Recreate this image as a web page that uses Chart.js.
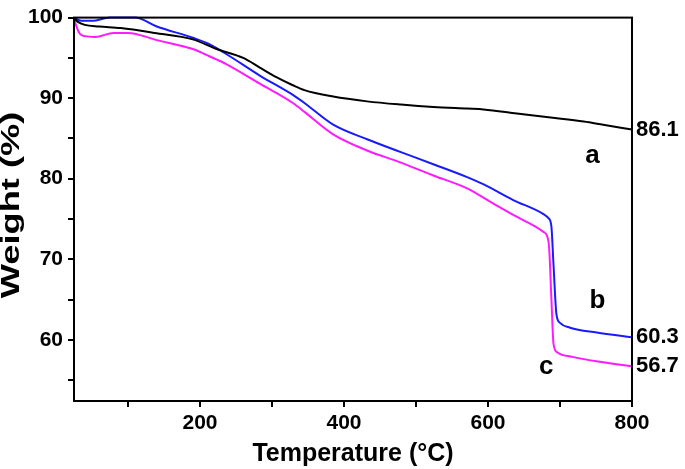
<!DOCTYPE html>
<html>
<head>
<meta charset="utf-8">
<script src="https://cdn.jsdelivr.net/npm/chart.js@4"></script>
<style>
html, body { margin: 0; padding: 0; background: #fff; }
canvas { display: block; }
</style>
</head>
<body>
<canvas id="tga" width="685" height="469"></canvas>
<script>
// TGA curves, weight (%) vs temperature (C)
var tempA   = [25, 30, 40, 60, 90, 137, 190, 223, 260, 283, 306, 329, 345, 385, 432, 479, 524, 571, 594, 640, 687, 733, 760, 800];
var weightA = [100, 99.5, 99.1, 98.9, 98.7, 98.1, 97.3, 96.1, 95.0, 93.8, 92.6, 91.6, 91.0, 90.2, 89.6, 89.2, 88.9, 88.7, 88.6, 88.1, 87.6, 87.1, 86.7, 86.1];

var tempB   = [25, 35, 50, 75, 110, 140, 190, 213, 237, 283, 329, 345, 385, 432, 479, 524, 571, 594, 635, 677, 684, 688, 691, 695, 700, 714, 751, 800];
var weightB = [100, 99.6, 99.6, 100, 100, 98.9, 97.5, 96.7, 95.45, 92.8, 90.4, 89.4, 86.7, 84.9, 83.3, 81.8, 80.2, 79.3, 77.35, 75.6, 75.1, 74.1, 69.3, 63.2, 62.1, 61.5, 60.9, 60.3];

var tempC   = [25, 28, 33, 40, 55, 80, 100, 140, 190, 213, 237, 283, 329, 345, 385, 432, 479, 524, 571, 600, 635, 677, 682, 685, 688, 691, 696, 719, 760, 800];
var weightC = [100, 99, 98.0, 97.7, 97.6, 98.1, 98.1, 97.2, 96.1, 95.2, 94.2, 91.8, 89.4, 88.3, 85.5, 83.5, 82.0, 80.4, 78.8, 77.3, 75.5, 73.4, 72.9, 71.3, 65.2, 59.5, 58.45, 57.85, 57.2, 56.7];

var curveNames = ['a', 'b', 'c'];
var xTicks  = [100, 200, 300, 400, 500, 600, 700, 800];
var xLabels = [200, 400, 600, 800];
var yTicks  = [55, 60, 65, 70, 75, 80, 85, 90, 95, 100];
var yLabels = [60, 70, 80, 90, 100];

var FONT = '"Liberation Sans", Arial, sans-serif';

function pts(xs, ys) {
    return xs.map(function (x, i) { return { x: x, y: ys[i] }; });
}

function line(label, xs, ys, color) {
    return {
        label: label,
        data: pts(xs, ys),
        borderColor: color,
        borderWidth: 2,
        pointRadius: 0,
        cubicInterpolationMode: 'monotone',
        clip: 4
    };
}

var annotate = {
    id: 'annotate',
    afterDraw: function (chart) {
        var ctx = chart.ctx, a = chart.chartArea;
        var xs = chart.scales.x, ys = chart.scales.y;
        ctx.save();
        ctx.strokeStyle = '#000';
        ctx.lineWidth = 2;
        ctx.strokeRect(a.left, a.top, a.right - a.left, a.bottom - a.top);

        ctx.fillStyle = '#000';
        ctx.textBaseline = 'middle';
        ctx.textAlign = 'left';
        ctx.font = 'bold 22px ' + FONT;
        chart.data.datasets.forEach(function (ds) {
            var last = ds.data[ds.data.length - 1];
            ctx.fillText(last.y.toFixed(1), a.right + 4, ys.getPixelForValue(last.y));
        });

        // curve letters
        var spots = [[745, 82.9], [752, 64.8], [681, 56.7]];
        ctx.textAlign = 'center';
        ctx.font = 'bold 26px ' + FONT;
        curveNames.forEach(function (n, i) {
            ctx.fillText(n, xs.getPixelForValue(spots[i][0]), ys.getPixelForValue(spots[i][1]));
        });

        // y axis title, drawn stretched along its length like the original
        ctx.translate(12, 205);
        ctx.rotate(-Math.PI / 2);
        ctx.scale(1.45, 1);
        ctx.font = 'bold 25px ' + FONT;
        ctx.fillText('Weight (%)', 0, 0);
        ctx.restore();
    }
};

new Chart(document.getElementById('tga').getContext('2d'), {
    type: 'line',
    data: {
        datasets: [
            line('a', tempA, weightA, '#000000'),
            line('b', tempB, weightB, '#1a1aff'),
            line('c', tempC, weightC, '#ff1aff')
        ]
    },
    options: {
        responsive: false,
        animation: false,
        devicePixelRatio: 1,
        layout: { padding: { left: 0, top: 11, right: 53, bottom: 0 } },
        plugins: { legend: { display: false }, tooltip: { enabled: false } },
        scales: {
            x: {
                type: 'linear',
                min: 25,
                max: 800,
                afterBuildTicks: function (s) { s.ticks = xTicks.map(function (v) { return { value: v }; }); },
                afterFit: function (s) { s.height = 68; },
                border: { display: false },
                grid: { drawOnChartArea: false, drawTicks: true, tickLength: 6, color: '#000', lineWidth: 2 },
                ticks: {
                    autoSkip: false,
                    maxRotation: 0,
                    padding: 4,
                    color: '#000',
                    font: { family: FONT, size: 21, weight: 'bold' },
                    callback: function (v) { return xLabels.indexOf(v) >= 0 ? String(v) : ''; }
                },
                title: {
                    display: true,
                    text: 'Temperature (°C)',
                    color: '#000',
                    font: { family: FONT, size: 25, weight: 'bold' },
                    padding: { top: 0, bottom: 0 }
                }
            },
            y: {
                min: 52.4,
                max: 100,
                afterBuildTicks: function (s) { s.ticks = yTicks.map(function (v) { return { value: v }; }); },
                afterFit: function (s) { s.width = 74; },
                border: { display: false },
                grid: { drawOnChartArea: false, drawTicks: true, tickLength: 6, color: '#000', lineWidth: 2 },
                ticks: {
                    autoSkip: false,
                    padding: 5,
                    color: '#000',
                    font: { family: FONT, size: 21, weight: 'bold' },
                    callback: function (v) { return yLabels.indexOf(v) >= 0 ? String(v) : ''; }
                },
                title: { display: false }
            }
        }
    },
    plugins: [annotate]
});
</script>
</body>
</html>
